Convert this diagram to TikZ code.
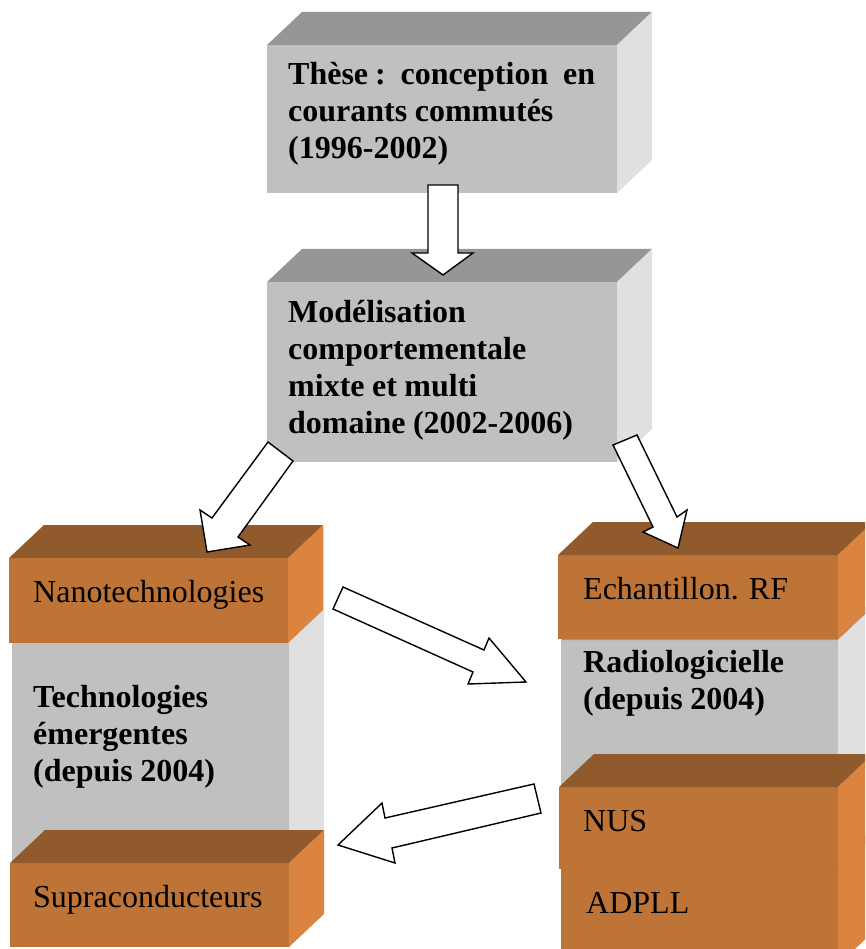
\documentclass[tikz,border=0pt]{standalone}
\usepackage{fontspec}
\setmainfont{Liberation Serif}
\usetikzlibrary{fit}
\definecolor{gfront}{RGB}{192,192,192}
\definecolor{gtop}{RGB}{150,150,150}
\definecolor{gside}{RGB}{224,224,224}
\definecolor{ofront}{RGB}{190,116,54}
\definecolor{otop}{RGB}{145,90,44}
\definecolor{oside}{RGB}{219,132,64}
\newskip\myws
\myws=7.5pt plus 2pt minus 1pt
\newcommand\tightws{\spaceskip\myws}
\newcommand\solidblock[6]{%
  \coordinate (#1-nw) at (#3,#4);
  \coordinate (#1-se) at (#5,#6);
  \node[fit=(#1-nw)(#1-se), inner sep=0pt, outer sep=0pt, fill=#2front] (#1) {};
  \fill[#2top] (#1.north west) -- ++(35,-33) -- ([shift={(35,-33)}]#1.north east) -- (#1.north east) -- cycle;
  \fill[#2side] (#1.north east) -- ++(35,-33) -- ([shift={(35,-33)}]#1.south east) -- (#1.south east) -- cycle;
}
\tikzset{
  boldtxt/.style={anchor=base west, inner sep=0pt, text width=360pt, align=left,
    font=\fontsize{32}{37}\selectfont\bfseries},
  plaintxt/.style={anchor=base west, inner sep=0pt, font=\fontsize{32}{37}\selectfont},
  blockarrow/.style={fill=white, draw=black, line width=1.4pt, line join=miter},
}
\begin{document}
\begin{tikzpicture}[x=1pt, y=-1pt]
\useasboundingbox (0,0) rectangle (865,949);
\clip (0,0) rectangle (865,949);
% top boxes
\solidblock{these}{g}{267}{45}{617}{193}
\node[boldtxt] (these-t) at (288,85)
  {\tightws\hbox to 307pt{Thèse\kern7pt:\hfil conception\hfil en}\\courants commutés\\(1996-2002)};
\solidblock{model}{g}{267}{282}{617}{462}
\node[boldtxt] (model-t) at (288,322)
  {\tightws Modélisation\\comportementale\\mixte et multi\\domaine (2002-2006)};
% left group
\solidblock{tech}{g}{12}{560}{289}{945}
\node[boldtxt] (tech-t) at (33,707) {\tightws Technologies\\émergentes\\(depuis 2004)};
\solidblock{nano}{o}{9}{558}{288}{643}
\node[plaintxt] (nano-t) at (33,602) {Nanotechnologies};
\solidblock{supra}{o}{10}{863}{289}{947}
\node[plaintxt] (supra-t) at (33,907) {Supraconducteurs};
% right group
\solidblock{radio}{g}{561}{640}{838}{945}
\node[boldtxt] (radio-t) at (583,672) {\tightws Radiologicielle\\(depuis 2004)};
\solidblock{echan}{o}{558}{555}{838}{639}
\node[plaintxt] (echan-t) at (583,599) {\tightws Echantillon. RF};
\solidblock{adpll}{o}{561}{869}{838}{965}
\node[plaintxt] (adpll-t) at (586,913) {ADPLL};
\solidblock{nus}{o}{559}{787}{838}{869}
\node[plaintxt] (nus-t) at (583,831) {NUS};
% block arrows
\draw[blockarrow] (428,185) -- (458,185) -- (458,253) -- (473,253) -- (443,275) -- (412,253) -- (428,253) -- cycle;
\draw[blockarrow] (268,442) -- (293,461) -- (238,537) -- (250,545) -- (207,552) -- (200,510) -- (212,518) -- cycle;
\draw[blockarrow] (613,445) -- (637,435) -- (677,517) -- (687,510) -- (678,548) -- (643,532) -- (653,527) -- cycle;
\draw[blockarrow] (343,587) -- (484,650) -- (489,638) -- (526,682) -- (468,684) -- (473,672) -- (333,609) -- cycle;
\draw[blockarrow] (534,784) -- (541,813) -- (392,848) -- (395,863) -- (338,845) -- (382,803) -- (385,818) -- cycle;
\end{tikzpicture}
\end{document}
